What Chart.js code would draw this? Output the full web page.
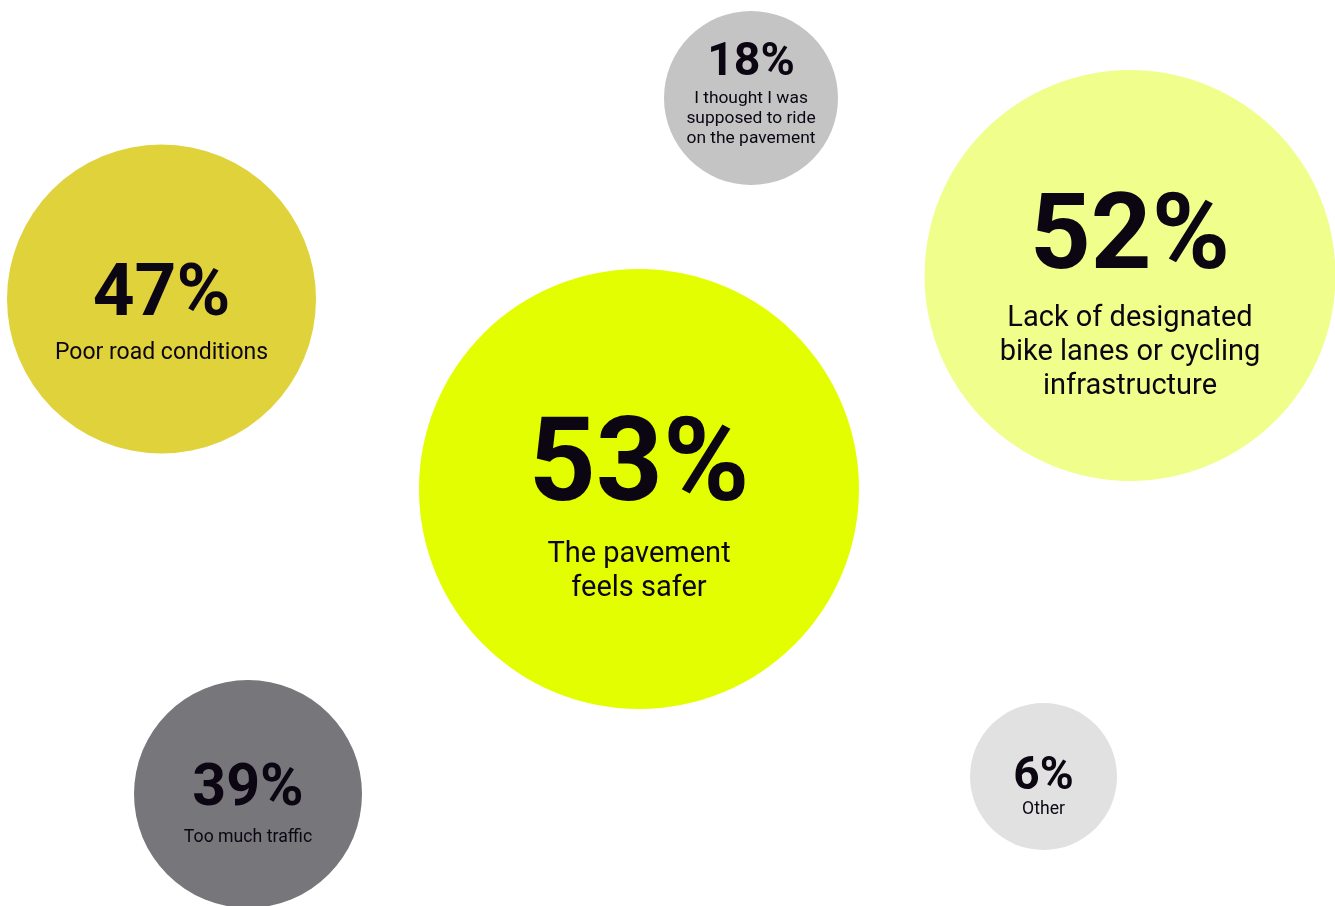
<!DOCTYPE html>
<html>
<head>
<meta charset="utf-8">
<title>Why people ride on the pavement</title>
<script src="https://cdn.jsdelivr.net/npm/chart.js@4/dist/chart.umd.min.js"></script>
<style>
  html, body { margin: 0; padding: 0; background: #ffffff; }
  #wrap { width: 1335px; height: 906px; position: relative; }
</style>
</head>
<body>
<div id="wrap"><canvas id="bubbles"></canvas></div>
<script>
// reasons, one line per array entry
const categories = [
  ['The pavement', 'feels safer'],
  ['Lack of designated', 'bike lanes or cycling', 'infrastructure'],
  ['Poor road conditions'],
  ['Too much traffic'],
  ['I thought I was', 'supposed to ride', 'on the pavement'],
  ['Other']
];
const values = [53, 52, 47, 39, 18, 6];

// layout of the cluster (pixel units on both scales)
const posX = [639, 1130, 161.5, 248, 751, 1043.5];
const posY = [489, 275.5, 299, 794, 98, 776.5];
const radii = [220, 205.5, 154.5, 114, 87, 73.5];
const colors = ['#e3fe00', '#f0fe8c', '#dfd23b', '#77777b', '#c4c4c4', '#e1e1e1'];

// text sizes and offsets from the bubble centre
const numSize = [117, 106, 73, 59, 46.5, 46];
const labelSize = [29, 29, 23, 17.7, 17.4, 17.6];
const numDy = [11, -8, 16, 11, -23, 12];
const labelDy = [73, 50, 60, 48, 5, 37];
const lineGap = [34, 34, 0, 0, 20, 0];

const inkColor = '#0b0612';

const bubbleText = {
  id: 'bubbleText',
  afterDatasetsDraw(chart) {
    const ctx = chart.ctx;
    const meta = chart.getDatasetMeta(0);
    ctx.save();
    ctx.fillStyle = inkColor;
    ctx.textAlign = 'center';
    ctx.textBaseline = 'alphabetic';
    meta.data.forEach((pt, i) => {
      ctx.font = `700 ${numSize[i]}px Roboto`;
      ctx.fillText(values[i] + '%', pt.x, pt.y + numDy[i]);
      ctx.font = `400 ${labelSize[i]}px Roboto`;
      categories[i].forEach((line, j) => {
        ctx.fillText(line, pt.x, pt.y + labelDy[i] + j * lineGap[i]);
      });
    });
    ctx.restore();
  }
};

new Chart(document.getElementById('bubbles').getContext('2d'), {
  type: 'bubble',
  data: {
    datasets: [{
      data: values.map((v, i) => ({ x: posX[i], y: posY[i], r: radii[i] })),
      backgroundColor: colors,
      borderWidth: 0,
      hoverBorderWidth: 0,
      clip: false
    }]
  },
  options: {
    responsive: true,
    maintainAspectRatio: false,
    animation: false,
    events: [],
    layout: { padding: 0, autoPadding: false },
    plugins: { legend: { display: false }, tooltip: { enabled: false } },
    scales: {
      x: { type: 'linear', min: 0, max: 1335, display: false },
      y: { type: 'linear', min: 0, max: 906, reverse: true, display: false }
    }
  },
  plugins: [bubbleText]
});
</script>
</body>
</html>
